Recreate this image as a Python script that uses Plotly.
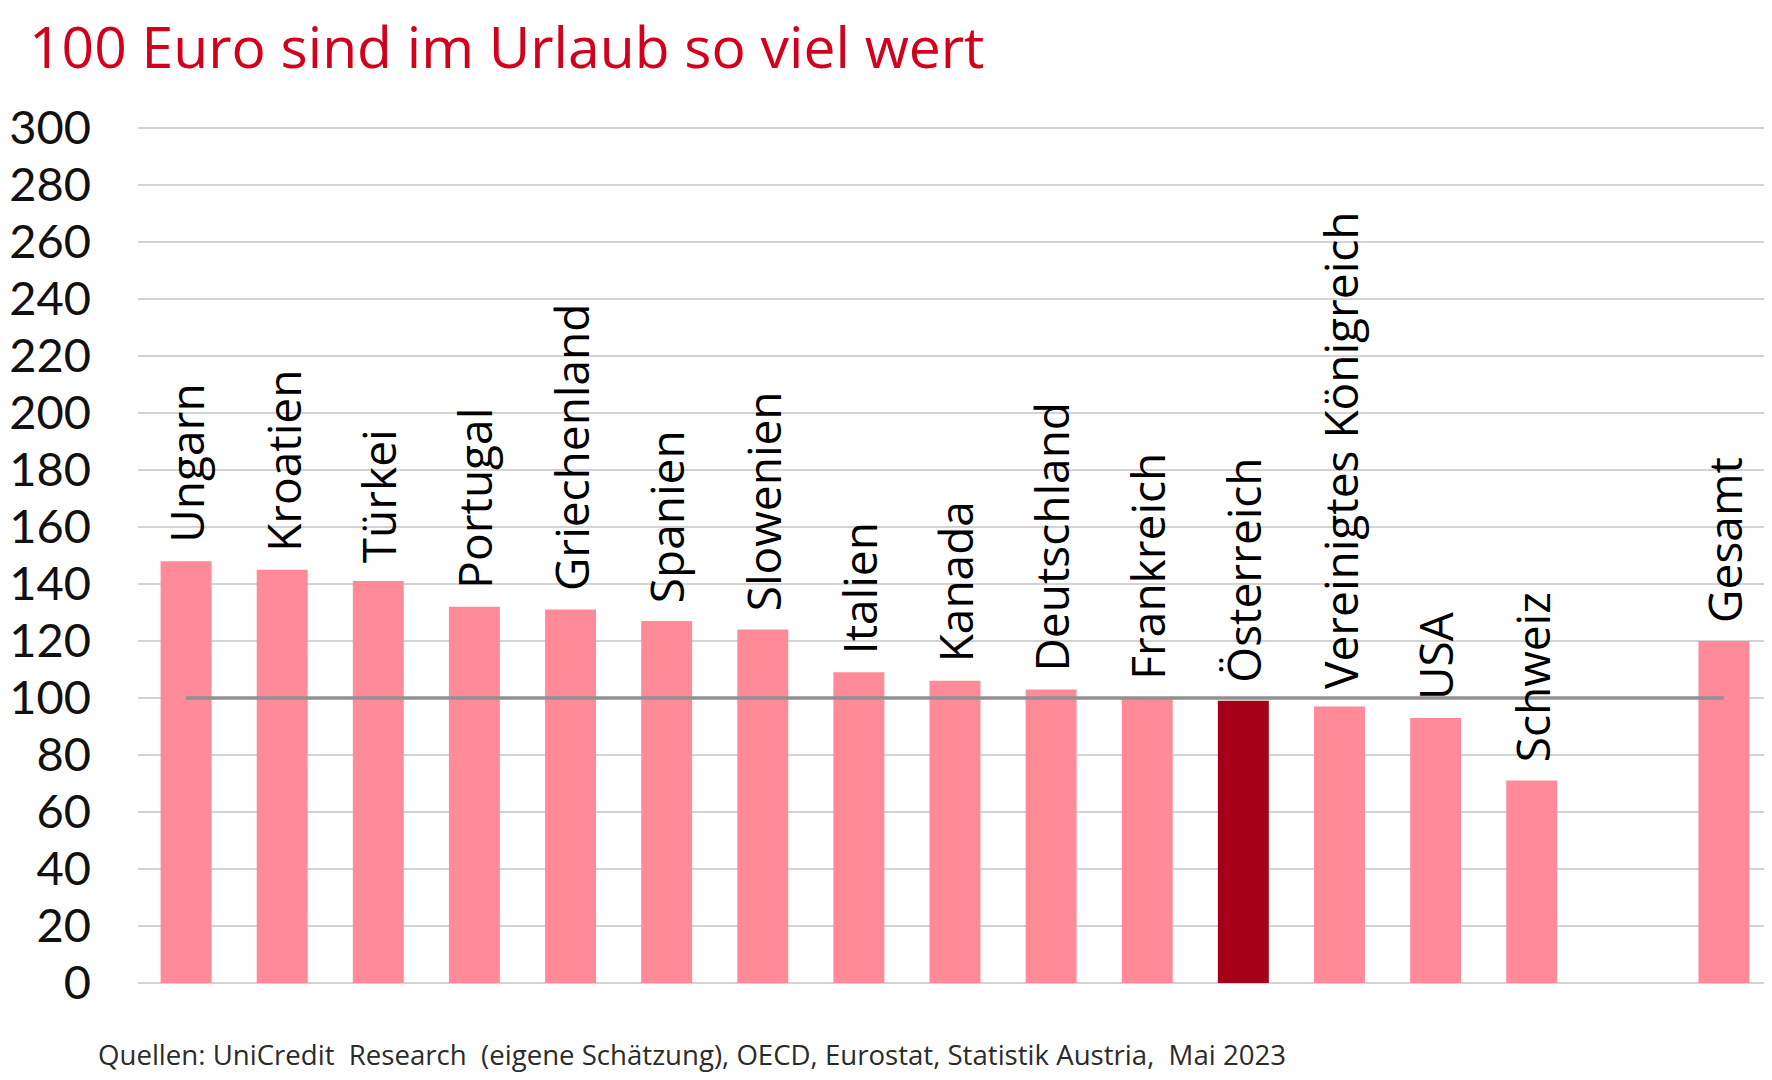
import plotly.graph_objects as go

# Kaufkraft von 100 Euro im Urlaub (Österreich = 100)
countries = ["Ungarn", "Kroatien", "Türkei", "Portugal", "Griechenland", "Spanien",
             "Slowenien", "Italien", "Kanada", "Deutschland", "Frankreich", "Österreich",
             "Vereinigtes Königreich", "USA", "Schweiz", "", "Gesamt"]
values = [148, 145, 141, 132, 131, 127, 124, 109, 106, 103, 100, 99, 97, 93, 71, None, 120]
reference_level = 100
y_ticks = [0, 20, 40, 60, 80, 100, 120, 140, 160, 180, 200, 220, 240, 260, 280, 300]

highlight = "Österreich"
pink = "#FF8B99"
dark_red = "#A50019"
font = "Open Sans"

positions = list(range(len(countries)))
colours = [dark_red if c == highlight else pink for c in countries]

fig = go.Figure()
fig.add_trace(go.Bar(
    x=positions,
    y=values,
    marker=dict(color=colours, line=dict(width=0)),
    width=0.53,
    hoverinfo="y",
))
# Referenzlinie bei 100, von erster bis letzter Kategorie
fig.add_trace(go.Scatter(
    x=[positions[0], positions[-1]],
    y=[reference_level, reference_level],
    mode="lines",
    line=dict(color="#919191", width=3.5),
    hoverinfo="skip",
))

# Länderbeschriftung senkrecht über den Balken
for pos, name, val in zip(positions, countries, values):
    if val is None:
        continue
    fig.add_annotation(
        x=pos, y=val,
        text=name,
        textangle=-90,
        showarrow=False,
        xanchor="center", yanchor="bottom",
        yshift=16,
        font=dict(family=font, size=46, color="#000000"),
    )

fig.add_annotation(
    xref="paper", yref="paper",
    x=-0.0677, y=1.092,
    text="100 Euro sind im Urlaub so viel wert",
    showarrow=False,
    xanchor="left", yanchor="middle",
    font=dict(family=font, size=57, color="#D2001C"),
)
fig.add_annotation(
    xref="paper", yref="paper",
    x=-0.0257, y=-0.0827,
    text="Quellen: UniCredit  Research  (eigene Schätzung), OECD, Eurostat, Statistik Austria,  Mai 2023",
    showarrow=False,
    xanchor="left", yanchor="middle",
    font=dict(family=font, size=27.6, color="#2B2B2B"),
)

# Breite/Höhe um den 8px-Body-Rand der Seite verkleinert
fig.update_layout(
    width=1764, height=1072,
    margin=dict(l=130, r=0, t=117, b=97, pad=0),
    paper_bgcolor="white",
    plot_bgcolor="white",
    showlegend=False,
    bargap=0.47,
    xaxis=dict(
        range=[-0.5, len(countries) - 0.5],
        showticklabels=False,
        showgrid=False,
        zeroline=False,
        fixedrange=True,
    ),
    yaxis=dict(
        range=[0, 301],
        tickvals=y_ticks,
        showgrid=True,
        gridcolor="#D3D3D3",
        gridwidth=2,
        zeroline=True,
        zerolinecolor="#D3D3D3",
        zerolinewidth=2,
        ticklabelstandoff=46,
        tickfont=dict(family="Lato", size=47, color="#111111"),
        fixedrange=True,
    ),
)

fig.write_html("out.html")
